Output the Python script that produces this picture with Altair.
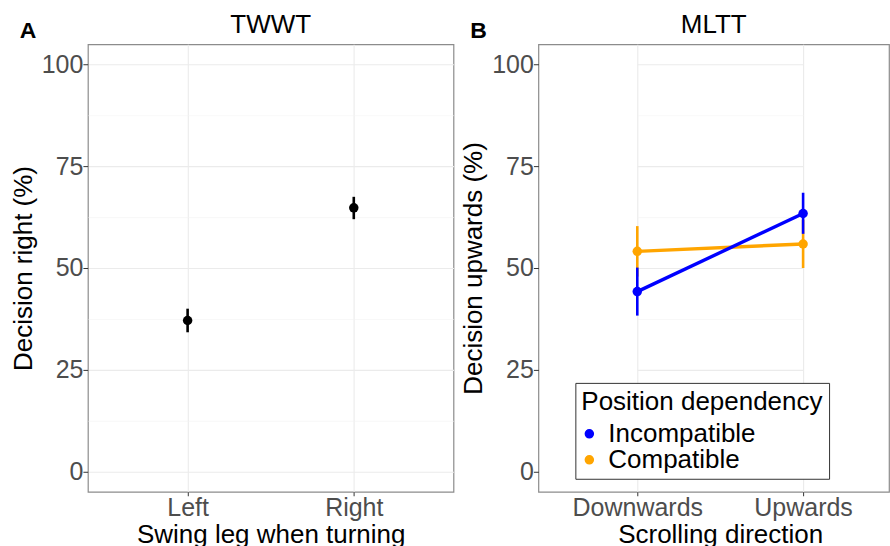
import altair as alt
import pandas as pd

FONT = "Liberation Sans"

# Panel A: TWWT, share of "right" decisions by swing leg (mean with error bar)
legs = ["Left", "Right"]
twwt_mean = [37.1, 64.8]
twwt_lower = [34.2, 62.0]
twwt_upper = [40.0, 67.5]

# Panel B: MLTT, share of "upwards" decisions by scrolling direction and group
directions = ["Downwards", "Upwards"]
groups = ["Incompatible", "Compatible"]
incompatible_mean = [44.2, 63.4]
incompatible_lower = [38.3, 58.4]
incompatible_upper = [50.1, 68.5]
compatible_mean = [54.1, 55.9]
compatible_lower = [47.9, 50.0]
compatible_upper = [60.3, 61.8]
group_colors = ["#0000FF", "#FFA500"]

# major ticks every 25, minor grid lines halfway between
y_ticks = [0, 12.5, 25, 37.5, 50, 62.5, 75, 87.5, 100]

twwt = pd.DataFrame({"leg": legs, "mean": twwt_mean,
                     "lower": twwt_lower, "upper": twwt_upper})

# Compatible rows first so the Incompatible series is drawn on top
mltt = pd.DataFrame({
    "direction": directions + directions,
    "group": ["Compatible"] * 2 + ["Incompatible"] * 2,
    "mean": compatible_mean + incompatible_mean,
    "lower": compatible_lower + incompatible_lower,
    "upper": compatible_upper + incompatible_upper,
})

PANEL_A_W = 366
PANEL_B_W = 351          # right-hand panel runs to the page edge
PANEL_H = 448
MAJOR = "datum.value % 25 === 0"

y_scale = alt.Scale(domain=[-5, 105], nice=False, zero=False)


def y_axis(title):
    return alt.Axis(
        title=title,
        values=y_ticks,
        labelExpr=f"{MAJOR} ? datum.label : ''",
        labelOverlap=False,
        labelPadding=0,
        tickSize=5,
        tickOpacity={"condition": {"test": MAJOR, "value": 1}, "value": 0},
        gridColor={"condition": {"test": MAJOR, "value": "#EBEBEB"}, "value": "#F4F4F4"},
        gridWidth={"condition": {"test": MAJOR, "value": 1.1}, "value": 0.6},
        titlePadding=5,
    )


def x_axis(title):
    return alt.Axis(
        title=title,
        labelAngle=0,
        grid=True,
        gridColor="#EBEBEB",
        gridWidth=1.1,
        tickSize=4,
        labelPadding=0,
        titlePadding=1,
    )


def panel_tag(letter):
    return alt.Chart(pd.DataFrame({"tag": [letter]})).mark_text(
        font=FONT, fontSize=23, fontWeight="bold", align="center",
        baseline="alphabetic", color="black",
    ).encode(text="tag:N", x=alt.value(-60), y=alt.value(-6))


# ---- Panel A ----
xa = alt.X("leg:N", sort=legs, scale=alt.Scale(type="point", padding=0.6),
           axis=x_axis("Swing leg when turning"))

a_err = alt.Chart(twwt).mark_rule(color="black", strokeWidth=2.6).encode(
    x=xa,
    y=alt.Y("lower:Q", scale=y_scale, axis=y_axis("Decision right (%)")),
    y2="upper:Q",
)
a_pts = alt.Chart(twwt).mark_circle(color="black", size=90, opacity=1).encode(
    x=xa, y=alt.Y("mean:Q", scale=y_scale),
)
panel_a = alt.layer(a_err, a_pts, panel_tag("A")).properties(
    width=PANEL_A_W, height=PANEL_H, title="TWWT")

# ---- Panel B ----
# same category spacing as panel A, but the panel is cut at the right edge
xb = alt.X("direction:N", sort=directions,
           scale=alt.Scale(type="point", range=[99, 265], padding=0),
           axis=x_axis("Scrolling direction"))
color_scale = alt.Scale(domain=groups, range=group_colors)

# points layer first: its filled-circle symbols are used for the shared legend
b_pts = alt.Chart(mltt).mark_circle(size=90, opacity=1).encode(
    x=xb,
    y=alt.Y("mean:Q", scale=y_scale, axis=y_axis("Decision upwards (%)")),
    color=alt.Color(
        "group:N",
        scale=color_scale,
        legend=alt.Legend(
            title="Position dependency",
            orient="none",
            legendX=488,
            legendY=339,
            symbolType="circle",
            symbolSize=64,
            symbolOffset=-5,
            labelOffset=6,
            rowPadding=-6,
            titlePadding=6,
            padding=6,
            titleLimit=500,
            labelLimit=400,
            strokeColor="#333333",
            fillColor="white",
        ),
    ),
)
b_err = alt.Chart(mltt).mark_rule(strokeWidth=2.6).encode(
    x=xb,
    y=alt.Y("lower:Q", scale=y_scale),
    y2="upper:Q",
    color=alt.Color("group:N", scale=color_scale),
)
b_line = alt.Chart(mltt).mark_line(strokeWidth=3.4).encode(
    x=xb, y=alt.Y("mean:Q", scale=y_scale),
    color=alt.Color("group:N", scale=color_scale),
)
panel_b = alt.layer(b_pts, b_err, b_line, panel_tag("B")).properties(
    width=PANEL_B_W, height=PANEL_H, title="MLTT")

chart = (
    alt.hconcat(panel_a, panel_b, spacing=5)
    .properties(padding={"left": 9, "top": 11, "right": 0, "bottom": 0},
                background="white")
    .configure_view(stroke="#8C8C8C", strokeWidth=1.2)
    .configure_axis(
        labelFont=FONT, titleFont=FONT, labelFontSize=25, titleFontSize=26,
        labelColor="#4D4D4D", titleColor="black", titleFontWeight="normal",
        tickColor="#333333", domain=False,
    )
    .configure_title(font=FONT, fontSize=26, fontWeight="normal", color="black",
                     offset=-18, anchor="middle")
    .configure_legend(
        titleFont=FONT, labelFont=FONT, titleFontSize=26, labelFontSize=26,
        titleFontWeight="normal", titleColor="black", labelColor="black",
    )
)

chart.save("out.html", embed_options={"renderer": "svg", "actions": False})
